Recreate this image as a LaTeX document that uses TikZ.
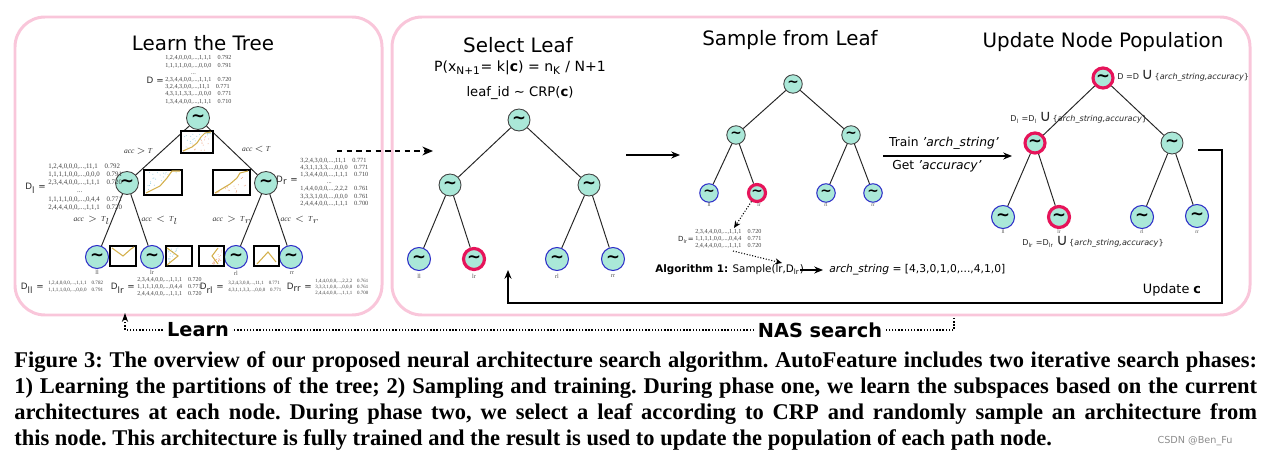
\documentclass[tikz,border=0pt]{standalone}
\usepackage{fontspec}
\usepackage{amsmath,amssymb}
\setmainfont{DejaVu Sans}
\newfontfamily\capfont{Liberation Serif}
\usetikzlibrary{arrows.meta}
\definecolor{pinkbox}{RGB}{249,198,218}
\definecolor{mint}{RGB}{170,232,216}
\definecolor{leafblue}{RGB}{45,45,200}
\definecolor{selred}{RGB}{230,20,90}
\definecolor{gold}{RGB}{212,176,76}
\definecolor{dotb}{RGB}{150,205,225}
\definecolor{doto}{RGB}{240,175,145}
\newcommand\fsz[2]{\fontsize{#1}{#2}\selectfont}
\newcommand\tld{{\bfseries ∼}}
\newcommand\dotsUL[5]{\foreach \i in {1,...,22}{\pgfmathsetmacro\uu{rnd}\pgfmathsetmacro\vv{rnd*(1-\uu)}\fill[#5] ({#1+2+\uu*(#3-#1-4)},{#2+2+\vv*(#4-#2-4)}) circle (0.01cm);}}
\newcommand\dotsLR[5]{\foreach \i in {1,...,22}{\pgfmathsetmacro\uu{rnd}\pgfmathsetmacro\vv{1-rnd*\uu}\fill[#5] ({#1+2+\uu*(#3-#1-4)},{#2+2+\vv*(#4-#2-4)}) circle (0.01cm);}}
\newcommand\updtxt[1]{#1 =#1 {\fsz{9}{9}∪}\,\{\textit{arch\_string,accuracy}\}}
\tikzset{
 tn/.style={circle,draw=black!75,line width=0.5pt,fill=mint,inner sep=0pt,minimum size=#1,font=\fsz{9.5}{9.5}},
 tn/.default=0.46cm,
 lf/.style={tn=#1,draw=leafblue,line width=0.6pt}, lf/.default=0.46cm,
 sl/.style={tn=#1,draw=selred,line width=1.8pt}, sl/.default=0.46cm,
 edge/.style={line width=0.55pt,black!85},
 dat/.style={font=\capfont\fsz{3.5}{4.1},align=left,inner sep=0pt,text=black!75,anchor=west},
 dlab/.style={font=\fsz{5}{6},inner sep=0pt,text=black!85,anchor=east},
 elab/.style={font=\capfont\itshape\fsz{4.3}{5},inner sep=0pt,text=black!80},
 ttl/.style={font=\fsz{11.3}{13}},
 plot/.style={draw=black,line width=0.9pt,fill=white},
 crv/.style={gold,line width=0.6pt},
 tiny/.style={font=\capfont\fsz{3.5}{4},inner sep=0pt,text=black!70},
 arr/.style={-{Stealth[length=5pt,width=4pt]},line width=1pt},
 capl/.style={anchor=west,inner sep=0pt,font=\capfont\bfseries\frenchspacing\fsz{12.8}{14}}
}
\begin{document}
\begin{tikzpicture}[x=0.02cm,y=-0.02cm]
\pgfmathsetseed{7}
\useasboundingbox (0,0) rectangle (1266,462);
% boxes
\draw[pinkbox,line width=1.7pt,rounded corners=0.6cm] (15,17) rectangle (382,315);
\draw[pinkbox,line width=1.7pt,rounded corners=0.6cm] (392,17) rectangle (1250,315);

% ---------------- Learn the Tree
\node[ttl] (t1) at (203,43) {Learn the Tree};
\node[tn] (R) at (198,118) {\tld};
\node[tn] (L) at (127,183) {\tld};
\node[tn] (Rr) at (266,183) {\tld};
\node[lf] (LL) at (97,257) {\tld};
\node[lf] (LR) at (152,257) {\tld};
\node[lf] (RL) at (236,257) {\tld};
\node[lf] (RR) at (291,257) {\tld};
\draw[edge] (R) -- (L); \draw[edge] (R) -- (Rr);
\draw[edge] (L) -- (LL); \draw[edge] (L) -- (LR);
\draw[edge] (Rr) -- (RL); \draw[edge] (Rr) -- (RR);
\node[tiny] (lll) at (97,272) {ll};
\node[tiny] (llr) at (152,272) {lr};
\node[tiny] (lrl) at (236,273) {rl};
\node[tiny] (lrr) at (292,273) {rr};
% plots
\draw[plot] (181,131) rectangle (213,153);
\dotsUL{181}{131}{213}{153}{dotb}\dotsLR{181}{131}{213}{153}{doto}
\draw[crv] (183,151) -- (192,147) -- (197,143) -- (201,137) -- (205,133) -- (211,132);
\draw[plot] (144,170) rectangle (182,195);
\dotsUL{144}{170}{182}{195}{dotb}
\draw[crv] (146,193) -- (160,186) -- (167,178) -- (172,171) -- (180,171);
\draw[plot] (213,170) rectangle (250,195);
\dotsLR{213}{170}{250}{195}{doto}
\draw[crv] (215,193) -- (230,184) -- (237,178) -- (240,173) -- (248,171);
\draw[plot] (110,246) rectangle (136,266);
\draw[crv] (112,248) -- (123,256) -- (131,249) -- (134,247);
\draw[plot] (166,246) rectangle (192,266);
\dotsUL{166}{246}{180}{266}{dotb}
\draw[crv] (167,248) -- (178,256) -- (167,265);
\draw[plot] (199,246) rectangle (224,266);
\dotsLR{210}{246}{224}{266}{doto}
\draw[crv] (218,248) -- (212,256) -- (218,264);
\draw[plot] (254,246) rectangle (279,266);
\draw[crv] (257,264) -- (268,252) -- (276,262);
% edge labels
\node[elab] (e1) at (138,151) {acc $>$ T};
\node[elab] (e2) at (256,149) {acc $<$ T};
\node[elab] (e3) at (92,220) {acc \ $>$ \ T$_l$};
\node[elab] (e4) at (160,220) {acc \ $<$ \ T$_l$};
\node[elab] (e5) at (232,220) {acc \ $>$ \ T$_r$};
\node[elab] (e6) at (300,220) {acc \ $<$ \ T$_r$};
% data
\node[dlab] (dl0) at (164,80) {D =};
\node[dat] (d0) at (165,80) {1,2,4,0,0,0,...,1,1,1\quad 0.792\\1,1,1,1,0,0,...,0,0,0\quad 0.791\\\hspace*{4.2em}...\\2,3,4,4,0,0,...,1,1,1\quad 0.720\\3,2,4,3,0,0,...,11,1\quad 0.771\\4,3,1,1,3,3,...,0,0,0\quad 0.771\\1,3,4,4,0,0,...,1,1,1\quad 0.710};
\node[dlab] (dl1) at (46,188) {D\textsubscript{l} =};
\node[dat,font=\capfont\fsz{3.9}{4.65}] (d1) at (48,187) {1,2,4,0,0,0,...,11,1\quad 0.792\\1,1,1,1,0,0,...,0,0,0\quad 0.791\\2,3,4,4,0,0,...,1,1,1\quad 0.720\\\hspace*{4.2em}...\\1,1,1,1,0,0,...,0,4,4\quad 0.771\\2,4,4,4,0,0,...,1,1,1\quad 0.720};
\node[dlab] (dl2) at (298,180) {D\textsubscript{r} =};
\node[dat,font=\capfont\fsz{3.6}{4.1}] (d2) at (300,182) {3,2,4,3,0,0,...,11,1\quad 0.771\\4,3,1,1,3,3,...,0,0,0\quad 0.771\\1,3,4,4,0,0,...,1,1,1\quad 0.710\\\hspace*{4.2em}...\\1,4,4,0,0,0,...,2,2,2\quad 0.761\\3,3,3,1,0,0,...,0,0,0\quad 0.761\\2,4,4,4,0,0,...,1,1,1\quad 0.700};
\node[dlab] (dl3) at (44,288) {D\textsubscript{ll} =};
\node[dat,font=\capfont\fsz{2.9}{4.2}] (d3) at (48,287) {1,2,4,0,0,0,...,1,1,1\quad 0.782\\1,1,1,1,0,0,...,0,0,0\quad 0.791};
\node[dlab] (dl4) at (135,288) {D\textsubscript{lr} =};
\node[dat,font=\capfont\fsz{3.4}{3.8}] (d4) at (137,287) {2,3,4,4,0,0,...,1,1,1\quad 0.720\\1,1,1,1,0,0,...,0,4,4\quad 0.771\\2,4,4,4,0,0,...,1,1,1\quad 0.720};
\node[dlab] (dl5) at (224,288) {D\textsubscript{rl} =};
\node[dat,font=\capfont\fsz{2.8}{4.2}] (d5) at (228,287) {3,2,4,3,0,0,...,11,1\quad 0.771\\4,3,1,1,3,3,...,0,0,0\quad 0.771};
\node[dlab] (dl6) at (312,287) {D\textsubscript{rr} =};
\node[dat,font=\capfont\fsz{2.8}{3.3}] (d6) at (315,287) {1,4,4,0,0,0,...,2,2,2\quad 0.761\\3,3,3,1,0,0,...,0,0,0\quad 0.761\\2,4,4,4,0,0,...,1,1,1\quad 0.700};

% dashed arrow between boxes
\coordinate (da0) at (337,151); \coordinate (da1) at (433,151);
\draw[-{Stealth[length=6pt,width=5pt]},line width=1.2pt,dash pattern=on 3pt off 2.5pt] (da0) -- (da1);

% ---------------- Select Leaf
\node[ttl] (t2) at (518,45) {Select Leaf};
\node[font=\fsz{8}{9}] (f1) at (520,68) {P(x\textsubscript{N+1}= k|\textbf{c}) = n\textsubscript{K} / N+1};
\node[font=\fsz{7.5}{9}] (f2) at (520,93) {leaf\_id ∼ CRP(\textbf{c})};
\node[tn=0.44cm] (S0) at (519,120) {\tld};
\node[tn=0.44cm] (S1) at (450,185) {\tld};
\node[tn=0.44cm] (S2) at (589,185) {\tld};
\node[lf] (S3) at (419,259) {\tld};
\node[sl=0.42cm] (S4) at (474,259) {\tld};
\node[lf] (S5) at (557,259) {\tld};
\node[lf] (S6) at (613,259) {\tld};
\draw[edge] (S0) -- (S1); \draw[edge] (S0) -- (S2);
\draw[edge] (S1) -- (S3); \draw[edge] (S1) -- (S4);
\draw[edge] (S2) -- (S5); \draw[edge] (S2) -- (S6);
\node[tiny] (sll) at (419,276) {ll};
\node[tiny] (slr) at (474,276) {lr};
\node[tiny] (srl) at (557,276) {rl};
\node[tiny] (srr) at (613,276) {rr};
\coordinate (ss0) at (626,155); \coordinate (ss1) at (680,155);
\draw[arr,line width=1.3pt] (ss0) -- (ss1);

% ---------------- Sample from Leaf
\node[ttl] (t3) at (790,40) {Sample from Leaf};
\node[tn=0.37cm,font=\fsz{7.8}{8}] (P0) at (793,84) {\tld};
\node[tn=0.37cm,font=\fsz{7.8}{8}] (P1) at (736,135) {\tld};
\node[tn=0.37cm,font=\fsz{7.8}{8}] (P2) at (851,135) {\tld};
\node[lf=0.37cm,font=\fsz{7.8}{8}] (P3) at (709,193) {\tld};
\node[sl=0.34cm,font=\fsz{7.8}{8}] (P4) at (757,193) {\tld};
\node[lf=0.37cm,font=\fsz{7.8}{8}] (P5) at (826,193) {\tld};
\node[lf=0.37cm,font=\fsz{7.8}{8}] (P6) at (873,193) {\tld};
\draw[edge] (P0) -- (P1); \draw[edge] (P0) -- (P2);
\draw[edge] (P1) -- (P3); \draw[edge] (P1) -- (P4);
\draw[edge] (P2) -- (P5); \draw[edge] (P2) -- (P6);
\node[tiny,font=\capfont\fsz{3}{3}] (pll) at (709,205) {ll};
\node[tiny,font=\capfont\fsz{3}{3}] (plr) at (759,205) {lr};
\node[tiny,font=\capfont\fsz{3}{3}] (prl) at (826,205) {rl};
\node[tiny,font=\capfont\fsz{3}{3}] (prr) at (873,205) {rr};
\coordinate (sd1) at (734,228);
\draw[densely dotted,line width=0.6pt,-{Stealth[length=4pt,width=3.5pt]}] (P4) -- (sd1);
\node[dlab,font=\fsz{4}{5}] (pdl) at (694,240) {D\textsubscript{lr}=};
\node[dat] (pd) at (695,239) {2,3,4,4,0,0,...,1,1,1\quad 0.720\\1,1,1,1,0,0,...,0,4,4\quad 0.771\\2,4,4,4,0,0,...,1,1,1\quad 0.720};
\coordinate (sd2) at (733,251); \coordinate (sd3) at (782,263);
\draw[densely dotted,line width=0.6pt,-{Stealth[length=4pt,width=3.5pt]}] (sd2) -- (sd3);
\node[anchor=west,font=\fsz{5.9}{7},inner sep=0pt] (alg) at (655,270) {\textbf{Algorithm 1:} Sample(lr,D\textsubscript{lr})};
\coordinate (al0) at (800,270); \coordinate (al1) at (823,270);
\draw[arr,line width=0.9pt] (al0) -- (al1);
\node[anchor=west,font=\fsz{6.1}{7},inner sep=0pt] (arch) at (829,270) {\textit{arch\_string} = [4,3,0,1,0,...,4,1,0]};

% Train arrow
\node[font=\fsz{7}{8}] (trn) at (944,143) {Train \textit{'arch\_string'}};
\node[font=\fsz{7}{8}] (gac) at (937,166) {Get \textit{'accuracy'}};
\coordinate (tr0) at (883,156); \coordinate (tr1) at (1012,156);
\draw[arr,line width=1.3pt] (tr0) -- (tr1);

% ---------------- Update Node Population
\node[ttl] (t4) at (1103,42) {Update Node Population};
\node[sl=0.4cm] (U0) at (1103,78) {\tld};
\node[sl=0.4cm] (U1) at (1035,143) {\tld};
\node[tn=0.44cm] (U2) at (1172,143) {\tld};
\node[lf] (U3) at (1003,217) {\tld};
\node[sl=0.42cm] (U4) at (1059,217) {\tld};
\node[lf] (U5) at (1142,217) {\tld};
\node[lf] (U6) at (1197,216) {\tld};
\draw[edge] (U0) -- (U1); \draw[edge] (U0) -- (U2);
\draw[edge] (U1) -- (U3); \draw[edge] (U1) -- (U4);
\draw[edge] (U2) -- (U5); \draw[edge] (U2) -- (U6);
\node[tiny,font=\capfont\fsz{3}{3}] (ull) at (1003,232) {ll};
\node[tiny,font=\capfont\fsz{3}{3}] (ulr) at (1059,232) {lr};
\node[tiny,font=\capfont\fsz{3}{3}] (url) at (1142,232) {rl};
\node[tiny,font=\capfont\fsz{3}{3}] (urr) at (1197,232) {rr};
\node[anchor=west,inner sep=0pt,font=\fsz{4.6}{6},text=black!85] (a1) at (1117,76) {\updtxt{D}};
\node[anchor=west,inner sep=0pt,font=\fsz{4.6}{6},text=black!85] (a2) at (1010,118) {\updtxt{D\textsubscript{l}}};
\node[anchor=west,inner sep=0pt,font=\fsz{4.6}{6},text=black!85] (a3) at (1022,242) {\updtxt{D\textsubscript{lr}}};
\node[font=\fsz{7.3}{9}] (upc) at (1172,290) {Update \textbf{c}};
% feedback
\coordinate (fb0) at (1198,150); \coordinate (fb2) at (1222,303); \coordinate (fb4) at (508,270);
\draw[arr,line width=0.9pt] (fb0) -| (fb2) -| (fb4);

% ---------------- bottom
\coordinate (b0) at (954,318); \coordinate (b1) at (954,330);
\coordinate (b2) at (125,330); \coordinate (b3) at (125,313);
\draw[densely dotted,line width=0.8pt,-{Stealth[length=5pt,width=3.5pt]}] (b0) -- (b1) -- (b2) -- (b3);
\node[fill=white,inner sep=1.5pt,font=\bfseries\fsz{11}{12}] (lrn) at (198,330) {Learn};
\node[fill=white,inner sep=1.5pt,font=\bfseries\fsz{11}{12}] (nas) at (820,330) {NAS search};

% caption
\node[capl] (c1) at (14,362) {\makebox[24.86cm][s]{Figure 3: The overview of our proposed neural architecture search algorithm. AutoFeature includes two iterative search phases:}};
\node[capl] (c2) at (14,388) {\makebox[24.86cm][s]{1) Learning the partitions of the tree; 2) Sampling and training. During phase one, we learn the subspaces based on the current}};
\node[capl] (c3) at (14,414) {\makebox[24.86cm][s]{architectures at each node. During phase two, we select a leaf according to CRP and randomly sample an architecture from}};
\node[capl] (c4) at (14,440) {this node. This architecture is fully trained and the result is used to update the population of each path node.};
\node[font=\fsz{5.5}{6},text=black!45] (wm) at (1195,441) {CSDN @Ben\_Fu};
\end{tikzpicture}
\end{document}
